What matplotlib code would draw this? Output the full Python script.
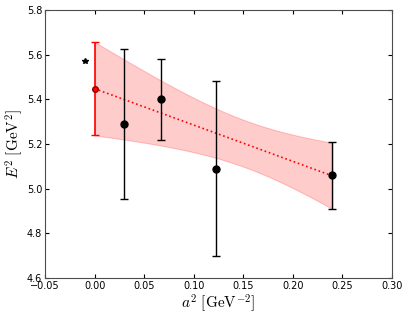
import matplotlib
matplotlib.use("Agg")
import matplotlib.pyplot as plt
import numpy as np

plt.rcParams['mathtext.fontset'] = 'cm'
plt.rcParams['xtick.direction'] = 'in'
plt.rcParams['ytick.direction'] = 'in'
plt.rcParams['xtick.top'] = True
plt.rcParams['ytick.right'] = True

# lattice data: a^2 and E^2 with errors
a2 = [0.030, 0.067, 0.122, 0.240]
E2 = [5.29, 5.40, 5.09, 5.06]
dE2 = [0.335, 0.18, 0.39, 0.15]

# reference point (star)
star_x = [-0.01]
star_y = [5.57]

xticks = [-0.05, 0.00, 0.05, 0.10, 0.15, 0.20, 0.25, 0.30]
yticks = [4.6, 4.8, 5.0, 5.2, 5.4, 5.6, 5.8]

# weighted linear fit in a^2
x = np.array(a2)
y = np.array(E2)
s = np.array(dE2)
p, cov = np.polyfit(x, y, 1, w=1.0 / s, cov='unscaled')
xs = np.linspace(0, max(a2), 100)
fit = np.polyval(p, xs)
J = np.vstack([xs, np.ones_like(xs)]).T
err = np.sqrt(np.einsum('ij,jk,ik->i', J, cov, J))
E0 = p[1]
dE0 = np.sqrt(cov[1, 1])

fig = plt.figure(figsize=(4.07, 3.19), dpi=100)
ax = fig.add_axes([0.1106, 0.1285, 0.8524, 0.8402])

ax.fill_between(xs, fit - err, fit + err, facecolor='r', alpha=0.2, edgecolor='r', lw=0.8)
ax.plot(xs, fit, 'r:', lw=1.2)
ax.errorbar(a2, E2, yerr=dE2, fmt='o', color='k', ms=5, capsize=3, elinewidth=1)
ax.errorbar([0.0], [E0], yerr=[dE0], fmt='o', color='r', mec='darkred', ms=4, capsize=3, elinewidth=1.2)
ax.plot(star_x, star_y, 'k*', ms=4)

ax.set_xlim(-0.05, 0.30)
ax.set_ylim(4.6, 5.8)
ax.set_xticks(xticks)
ax.set_yticks(yticks)
ax.tick_params(labelsize=7, length=3, pad=2)
for sp in ax.spines.values():
    sp.set_color('0.3')
ax.set_xlabel(r'$a^2\ [\mathrm{GeV}^{-2}]$', fontsize=11, labelpad=1)
ax.set_ylabel(r'$E^2\ [\mathrm{GeV}^2]$', fontsize=11, labelpad=1)

plt.savefig("out.png", dpi=100)
